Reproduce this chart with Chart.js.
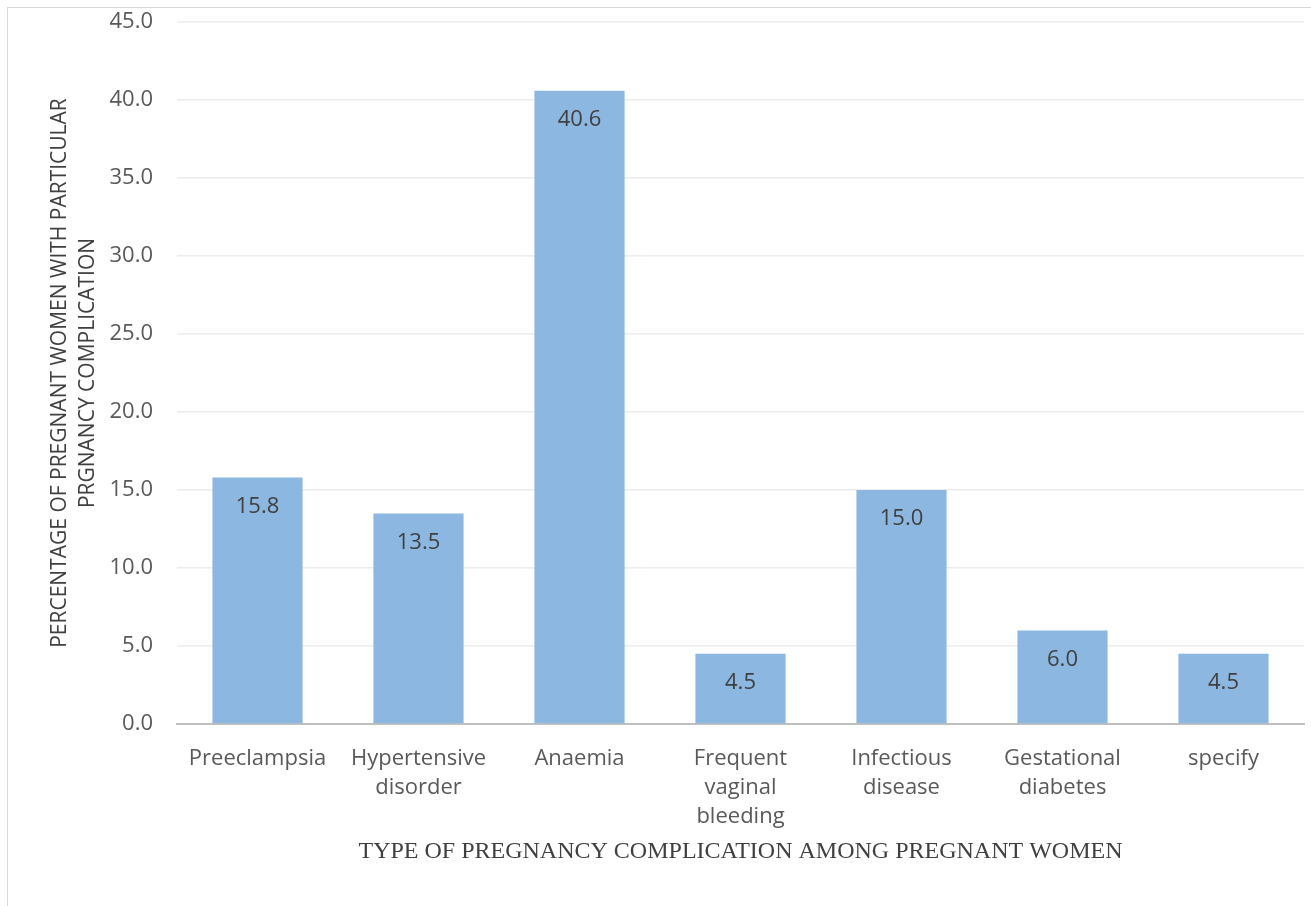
<!DOCTYPE html>
<html>
<head>
<meta charset="utf-8">
<script src="https://cdn.jsdelivr.net/npm/chart.js@4"></script>
<style>
  body { margin: 0; background: #fff; }
  #wrap { position: relative; width: 1311px; height: 906px; }
  #frame { position: absolute; left: 7px; top: 7px; width: 1310px; height: 905px; border: 1px solid #d9d9d9; box-sizing: border-box; }
  canvas { position: absolute; left: 0; top: 0; }
</style>
</head>
<body>
<div id="wrap">
  <div id="frame"></div>
  <canvas id="complicationChart" width="1311" height="906"></canvas>
</div>
<script>
// Type of pregnancy complication (percent of pregnant women)
const categories = ['Preeclampsia', ['Hypertensive', 'disorder'], 'Anaemia', ['Frequent', 'vaginal', 'bleeding'], ['Infectious', 'disease'], ['Gestational', 'diabetes'], 'specify'];
const percentages = [15.8, 13.5, 40.6, 4.5, 15.0, 6.0, 4.5];
const yTicks = [0, 5, 10, 15, 20, 25, 30, 35, 40, 45];

const labelFont = "'Open Sans', 'Noto Sans', sans-serif";

// writes the value inside each bar, just below its top
const valueLabels = {
    id: 'valueLabels',
    afterDatasetsDraw(chart) {
        const ctx = chart.ctx;
        const meta = chart.getDatasetMeta(0);
        ctx.save();
        ctx.font = '22px ' + labelFont;
        ctx.fillStyle = '#404040';
        ctx.textAlign = 'center';
        ctx.textBaseline = 'middle';
        meta.data.forEach(function(bar, i) {
            ctx.fillText(percentages[i].toFixed(1), bar.x, bar.y + 29);
        });
        ctx.restore();
    }
};

const ctx = document.getElementById('complicationChart').getContext('2d');
const complicationChart = new Chart(ctx, {
    type: 'bar',
    data: {
        labels: categories,
        datasets: [{
            data: percentages,
            backgroundColor: '#8cb7e1',
            barPercentage: 0.56,
            categoryPercentage: 1.0
        }]
    },
    options: {
        responsive: false,
        animation: false,
        layout: { padding: { top: 22, right: 7, left: 0, bottom: 0 } },
        plugins: {
            legend: { display: false },
            tooltip: { enabled: false }
        },
        scales: {
            x: {
                grid: { display: false, drawTicks: false },
                border: { color: '#bfbfbf', width: 2 },
                ticks: {
                    color: '#595959',
                    font: { family: labelFont, size: 22, lineHeight: 1.32 },
                    padding: 20,
                    maxRotation: 0,
                    autoSkip: false
                },
                title: {
                    display: true,
                    text: 'TYPE OF PREGNANCY COMPLICATION AMONG PREGNANT WOMEN',
                    color: '#404040',
                    font: { family: "'Liberation Serif', 'DejaVu Serif', serif", size: 24 },
                    padding: { bottom: 40 }
                },
                afterFit: function(scale) { scale.height = 182; }
            },
            y: {
                min: 0,
                max: 45,
                afterBuildTicks: function(scale) {
                    scale.ticks = yTicks.map(function(v) { return { value: v }; });
                },
                grid: { color: '#ececec', lineWidth: 1.5, drawTicks: false },
                border: { display: false },
                ticks: {
                    color: '#595959',
                    font: { family: labelFont, size: 22 },
                    padding: 24,
                    callback: function(v) { return v.toFixed(1); }
                },
                title: {
                    display: true,
                    text: ['PERCENTAGE OF PREGNANT WOMEN WITH PARTICULAR', 'PRGNANCY COMPLICATION'],
                    color: '#404040',
                    font: { family: labelFont, size: 21, lineHeight: 1.33 },
                    padding: { top: 46 }
                },
                afterFit: function(scale) {
                    scale.width = 177;
                    scale.paddingTop = 0;
                    scale.paddingBottom = 0;
                }
            }
        }
    },
    plugins: [valueLabels]
});
</script>
</body>
</html>
